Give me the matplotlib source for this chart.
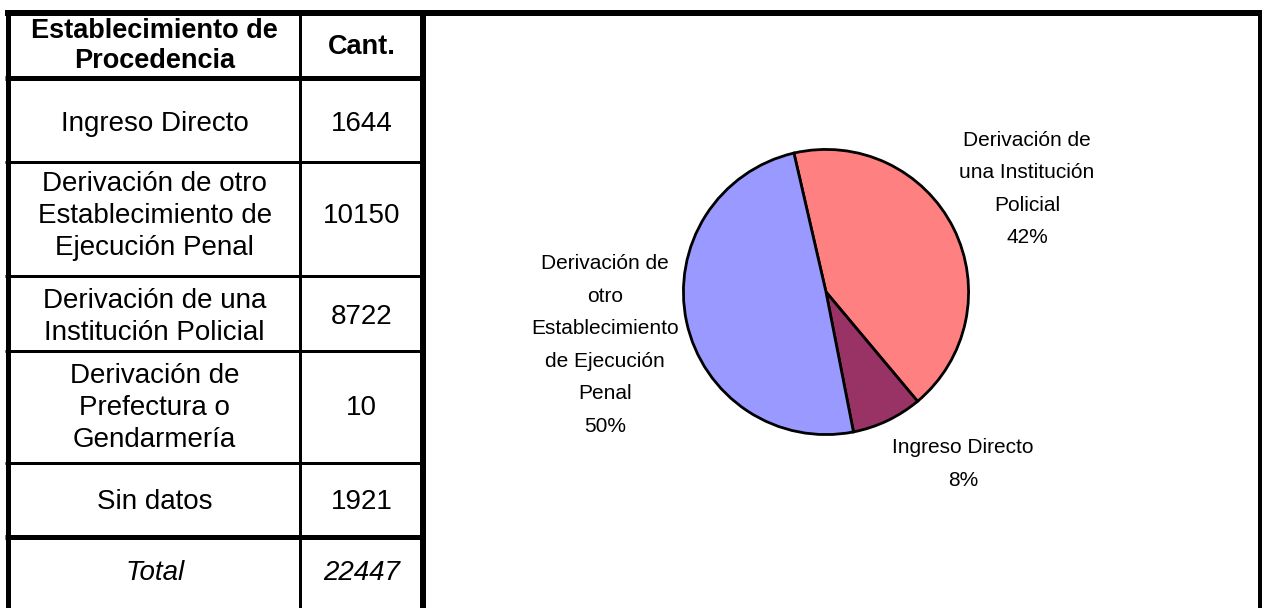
import matplotlib
matplotlib.use("Agg")
from matplotlib import pyplot as plt
from matplotlib import font_manager

# Table data
header = ["Establecimiento de\nProcedencia", "Cant."]
categories = [
    "Ingreso Directo",
    "Derivación de otro\nEstablecimiento de\nEjecución Penal",
    "Derivación de una\nInstitución Policial",
    "Derivación de\nPrefectura o\nGendarmería",
    "Sin datos",
]
counts = [1644, 10150, 8722, 10, 1921]
total_label = "Total"
total = 22447

# Pie data (clockwise from the top)
pie_labels = ["Derivación de\nuna Institución\nPolicial", "Ingreso Directo",
              "Derivación de\notro\nEstablecimiento\nde Ejecución\nPenal"]
pie_values = [8722, 1644, 10150]
pie_pcts = ["42%", "8%", "50%"]
pie_colors = ["#FF8080", "#993366", "#9999FF"]

W, H = 1262, 608
DPI = 100

names = {f.name for f in font_manager.fontManager.ttflist}
narrow = "Liberation Sans Narrow" if "Liberation Sans Narrow" in names else "Liberation Sans"
table_font = ["Liberation Sans", "DejaVu Sans"]

fig = plt.figure(figsize=(W / DPI, H / DPI), dpi=DPI)
ax = fig.add_axes([0, 0, 1, 1])
ax.set_xlim(0, W)
ax.set_ylim(H, 0)
ax.axis("off")

def px(w):
    return w * 72 / DPI

# grid lines of the table
col_x = [7.5, 300, 423, 1260]
col_w = [5, 3, 6, 4]
row_y = [13, 78, 162, 276, 351, 463, 537]
row_w = [6, 5, 3, 3, 3, 3, 5]
# small vertical nudges of the text in each row (header, rows..., total)
nudge = [1, 4, -3, 4, 1, 2, 2]

for x, w in zip(col_x, col_w):
    ax.plot([x, x], [10, H + 5], color="black", lw=px(w), solid_capstyle="butt")
for i, (y, w) in enumerate(zip(row_y, row_w)):
    x2 = col_x[-1] + 2 if i == 0 else col_x[2]
    ax.plot([col_x[0] - 2.5, x2], [y, y], color="black", lw=px(w), solid_capstyle="butt")

c1 = (col_x[0] + col_x[1]) / 2 + 1
c2 = (col_x[1] + col_x[2]) / 2
fs = 20
lsp = 1.3

def cell_center(i):
    bottom = row_y[i + 1] if i + 1 < len(row_y) else 606
    return (row_y[i] + bottom) / 2 + nudge[i]

ax.text(c1, cell_center(0), header[0], ha="center", va="center", fontsize=19.5,
        fontweight="bold", family=table_font, linespacing=1.2)
ax.text(c2, cell_center(0), header[1], ha="center", va="center", fontsize=19.5,
        fontweight="bold", family=table_font)

for i, (cat, n) in enumerate(zip(categories, counts)):
    yc = cell_center(i + 1)
    ax.text(c1, yc, cat, ha="center", va="center", fontsize=fs, family=table_font,
            linespacing=lsp)
    ax.text(c2, yc, str(n), ha="center", va="center", fontsize=fs, family=table_font)

yc = cell_center(len(categories) + 1)
ax.text(c1, yc, total_label, ha="center", va="center", fontsize=fs, style="italic",
        family=table_font)
ax.text(c2, yc, str(total), ha="center", va="center", fontsize=fs, style="italic",
        family=table_font)

# pie
cx, cy, r = 826, 292, 144
pax = fig.add_axes([(cx - r) / W, (H - cy - r) / H, 2 * r / W, 2 * r / H])
pax.pie(pie_values, colors=pie_colors, startangle=103, counterclock=False,
        wedgeprops=dict(edgecolor="black", linewidth=2))
pax.set_xlim(-1.01, 1.01)
pax.set_ylim(-1.01, 1.01)
pax.set_aspect("auto")
pax.axis("off")

label_pos = [(1027, 189), (963, 464), (605, 345)]
for lab, pct, (lx, ly) in zip(pie_labels, pie_pcts, label_pos):
    ax.text(lx, ly, lab + "\n" + pct, ha="center", va="center", fontsize=15,
            family=[narrow, "DejaVu Sans"], linespacing=1.9)

fig.savefig("out.png", dpi=DPI, facecolor="white")
